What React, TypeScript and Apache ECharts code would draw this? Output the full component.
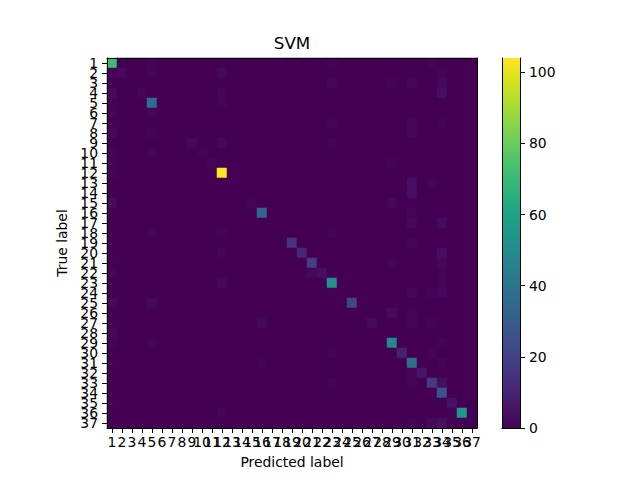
import * as echarts from "echarts";
import { useEffect, useRef } from "react";

const classLabels = [
  "1", "2", "3", "4", "5", "6", "7", "8", "9", "10",
  "11", "12", "13", "14", "15", "16", "17", "18", "19", "20",
  "21", "22", "23", "24", "25", "26", "27", "28", "29", "30",
  "31", "32", "33", "34", "35", "36", "37"
];

// correct predictions, one per class (row == column)
const diagonalCounts = [
  71, 2, 0, 1, 37, 0, 0, 0, 2, 1,
  1, 104, 0, 0, 1, 33, 0, 0, 15, 11,
  19, 4, 52, 0, 22, 0, 3, 0, 48, 9,
  38, 6, 18, 26, 5, 55, 0
];

// [true row, predicted column, count]
const offDiagonalCounts: Array<[number, number, number]> = [
  [0, 4, 1], [0, 22, 1], [0, 32, 1],
  [1, 0, 1], [1, 4, 1], [1, 11, 2], [1, 33, 1],
  [2, 22, 2], [2, 28, 1], [2, 30, 2], [2, 33, 2],
  [3, 0, 3], [3, 11, 1], [3, 33, 4],
  [4, 0, 1], [4, 11, 1],
  [5, 0, 1], [5, 4, 1],
  [6, 22, 1], [6, 30, 2], [6, 33, 1],
  [7, 0, 2], [7, 4, 1], [7, 30, 2],
  [8, 11, 2], [8, 22, 1],
  [9, 0, 1], [9, 4, 1],
  [10, 0, 1], [10, 28, 1],
  [11, 0, 1],
  [12, 30, 4], [12, 32, 1],
  [13, 30, 4],
  [14, 0, 3], [14, 28, 2],
  [15, 30, 1],
  [16, 30, 2], [16, 33, 3],
  [17, 4, 1], [17, 11, 1], [17, 22, 1],
  [18, 30, 1],
  [19, 11, 1], [19, 33, 4],
  [20, 28, 1], [20, 33, 2],
  [21, 0, 1], [21, 20, 2], [21, 33, 1],
  [22, 11, 2], [22, 33, 1],
  [23, 30, 2], [23, 32, 1], [23, 33, 2],
  [24, 0, 2], [24, 4, 2],
  [25, 28, 3], [25, 30, 1],
  [26, 15, 2], [26, 30, 1], [26, 32, 1],
  [27, 0, 2],
  [28, 0, 1], [28, 4, 1], [28, 33, 1],
  [29, 22, 1], [29, 32, 1],
  [30, 15, 1], [30, 33, 1],
  [31, 30, 1],
  [32, 22, 1], [32, 30, 1], [32, 33, 4],
  [35, 11, 1],
  [36, 30, 1], [36, 32, 2], [36, 33, 4]
];

const colorMax = 104;
const colorbarTicks = [0, 20, 40, 60, 80, 100];

const viridis = [
  "#440154", "#471365", "#482475", "#463480", "#414487", "#3b528b", "#355f8d",
  "#2f6c8e", "#2a788e", "#25848e", "#21918c", "#1e9c89", "#22a884", "#2fb47c",
  "#44bf70", "#5ec962", "#7ad151", "#9bd93c", "#bddf26", "#dfe318", "#fde725"
];

const FONT = "DejaVu Sans";
const black = "#000";

function buildCells() {
  const matrix = classLabels.map((_, r) => classLabels.map((_, c) => (r === c ? diagonalCounts[r] : 0)));
  offDiagonalCounts.forEach(([r, c, v]) => {
    matrix[r][c] = v;
  });
  const cells: number[][] = [];
  matrix.forEach((row, r) => row.forEach((v, c) => cells.push([c, r, v])));
  return cells;
}

function frameAxis(extra: object) {
  return {
    axisLine: { show: true, lineStyle: { color: black, width: 1 } },
    axisTick: { show: false },
    axisLabel: { show: false },
    splitLine: { show: false },
    z: 10,
    ...extra
  };
}

export default function App() {
  const ref = useRef<HTMLDivElement | null>(null);

  useEffect(() => {
    if (!ref.current) {
      return;
    }
    const chart = echarts.init(ref.current, null, { renderer: "svg" });
    const labelStyle = { fontSize: 13.9, color: black, fontFamily: FONT };

    chart.setOption({
      animation: false,
      backgroundColor: "#fff",
      textStyle: { fontFamily: FONT },
      grid: [
        { left: 107, top: 58, width: 370, height: 370 },
        { left: 502, top: 58, width: 18, height: 370 }
      ],
      visualMap: {
        show: false,
        type: "continuous",
        min: 0,
        max: colorMax,
        seriesIndex: 0,
        dimension: 2,
        inRange: { color: viridis }
      },
      xAxis: [
        {
          type: "category",
          gridIndex: 0,
          data: classLabels,
          position: "bottom",
          name: "Predicted label",
          nameLocation: "middle",
          nameGap: 27,
          nameTextStyle: labelStyle,
          axisLine: { show: true, lineStyle: { color: black, width: 1 } },
          axisTick: { show: true, alignWithLabel: true, length: 5, lineStyle: { color: black } },
          axisLabel: { ...labelStyle, interval: 0, margin: 7, hideOverlap: false },
          splitLine: { show: false },
          z: 10
        },
        frameAxis({ type: "category", gridIndex: 0, data: classLabels, position: "top" }),
        frameAxis({ type: "category", gridIndex: 1, data: ["colorbar"], position: "bottom" }),
        frameAxis({ type: "category", gridIndex: 1, data: ["colorbar"], position: "top" })
      ],
      yAxis: [
        {
          type: "category",
          gridIndex: 0,
          data: classLabels,
          inverse: true,
          position: "left",
          name: "True label",
          nameLocation: "middle",
          nameGap: 34,
          nameTextStyle: labelStyle,
          axisLine: { show: true, lineStyle: { color: black, width: 1 } },
          axisTick: { show: true, alignWithLabel: true, length: 5, lineStyle: { color: black } },
          axisLabel: { ...labelStyle, interval: 0, margin: 9, hideOverlap: false },
          splitLine: { show: false },
          z: 10
        },
        frameAxis({ type: "category", gridIndex: 0, data: classLabels, inverse: true, position: "right" }),
        {
          type: "value",
          gridIndex: 1,
          min: 0,
          max: colorMax,
          position: "right",
          axisLine: { show: true, lineStyle: { color: black, width: 1 } },
          axisTick: { show: true, length: 5, lineStyle: { color: black }, customValues: colorbarTicks },
          axisLabel: { ...labelStyle, margin: 9, customValues: colorbarTicks },
          splitLine: { show: false },
          z: 10
        },
        frameAxis({ type: "value", gridIndex: 1, min: 0, max: colorMax, position: "left" })
      ],
      graphic: [
        {
          type: "text",
          x: 292,
          y: 43,
          style: {
            text: "SVM",
            fontSize: 16.7,
            fontFamily: FONT,
            fill: black,
            textAlign: "center",
            textVerticalAlign: "middle"
          }
        }
      ],
      series: [
        {
          type: "heatmap",
          xAxisIndex: 0,
          yAxisIndex: 0,
          data: buildCells(),
          progressive: 0,
          silent: true
        },
        {
          type: "bar",
          xAxisIndex: 2,
          yAxisIndex: 2,
          data: [colorMax],
          barWidth: "100%",
          silent: true,
          itemStyle: {
            color: new echarts.graphic.LinearGradient(
              0, 1, 0, 0,
              viridis.map((color, i) => ({ offset: i / (viridis.length - 1), color }))
            )
          }
        }
      ]
    });

    return () => {
      chart.dispose();
    };
  }, []);

  return (
    <div
      ref={ref}
      style={{ position: "fixed", left: 0, top: 0, width: 640, height: 480 }}
    />
  );
}
